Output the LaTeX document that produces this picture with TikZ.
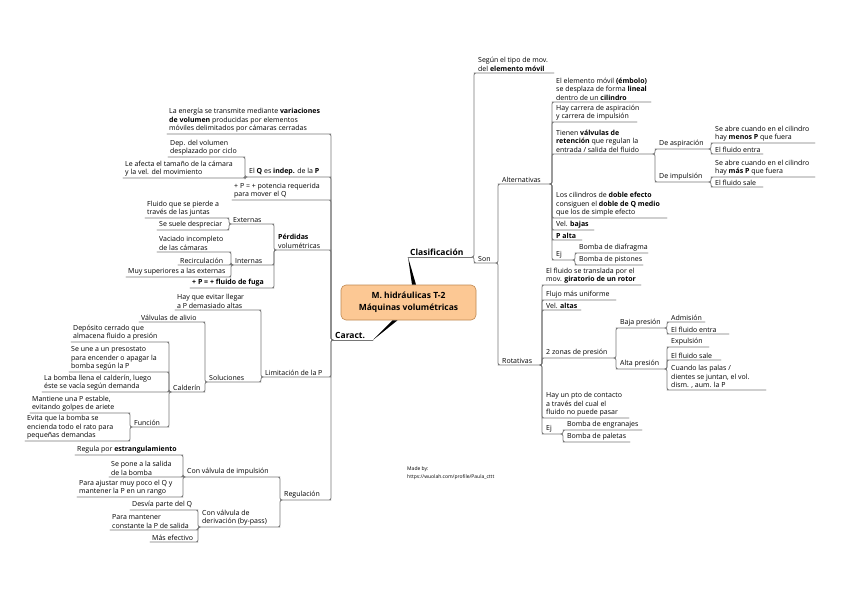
\documentclass[tikz,border=0pt]{standalone}
\usepackage{fontspec}
\setmainfont{Open Sans}
\definecolor{boxfill}{RGB}{252,200,148}
\definecolor{boxline}{RGB}{190,135,80}
\definecolor{linegray}{RGB}{118,118,118}

\begin{document}
\begin{tikzpicture}[x=1pt, y=-1pt,
                    line cap=round, line join=round,
                    topic/.style={anchor=south west, inner xsep=2pt, inner ysep=1.3pt, align=left,
                                  font=\fontsize{7}{8.5}\selectfont},
                    maintopic/.style={anchor=south west, inner xsep=2pt, inner ysep=1.5pt,
                                      font=\fontsize{8.5}{10}\selectfont\bfseries},
                    branch/.style={draw=linegray, line width=0.75pt, rounded corners=2pt}]
  \useasboundingbox (0,0) rectangle (848,599);
  % #1 parent, #2 name, #3 y of the underline, #4 underline length, #5 text
  \def\addRight#1#2#3#4#5{%
    \node[topic, xshift=4pt] (#2) at (#1-end |- 0,#3) {#5};
    \coordinate (#2-end) at ([xshift=#4pt]#2.south west);}
  \def\addLeft#1#2#3#4#5{%
    \node[topic, xshift=-4pt-#4pt] (#2) at (#1.south west |- 0,#3) {#5};
    \coordinate (#2-end) at ([xshift=#4pt]#2.south west);}

  % central topic
  \node[draw=boxline, fill=boxfill, rounded corners=5pt, line width=0.6pt,
        minimum width=135pt, minimum height=35pt, align=center,
        font=\fontsize{8.5}{12.5}\selectfont\bfseries] (main) at (408.5,302.5)
    {M. hidráulicas T-2\\ Máquinas volumétricas};
  \node[maintopic] (clasif) at (408,257) {Clasificación};
  \coordinate (clasif-end) at ([xshift=64pt]clasif.south west);
  \node[maintopic] (caract) at (333,340) {Caract.};
  \coordinate (caract-end) at ([xshift=40pt]caract.south west);
  \fill (clasif.south west) -- ([xshift=3.5pt]main.north) -- ([xshift=7.5pt]main.north) -- cycle;
  \fill (caract-end) -- ([xshift=-16pt]main.south) -- ([xshift=-11pt]main.south) -- cycle;
  \draw[branch] (clasif.south west) -- (clasif-end);
  \draw[branch] (caract.south west) -- (caract-end);

  % right side: clasificacion
  \addRight{clasif}{segun}{73}{78}{Según el tipo de mov.\\ del \textbf{elemento móvil}}
  \addRight{clasif}{son}{263}{20}{Son}
  \addRight{son}{alt}{184}{50}{Alternativas}
  \addRight{alt}{emb}{102}{97}{El elemento móvil \textbf{(émbolo)}\\ se desplaza de forma \textbf{lineal}\\ dentro de un \textbf{cilindro}}
  \addRight{alt}{carr}{122}{83}{Hay carrera de aspiración\\ y carrera de impulsión}
  \addRight{alt}{valv}{154}{99}{Tienen \textbf{válvulas de}\\ \textbf{retención} que regulan la\\ entrada / salida del fluido}
  \addRight{valv}{deasp}{149}{52}{De aspiración}
  \addRight{deasp}{aspA}{143}{102}{Se abre cuando en el cilindro\\ hay \textbf{menos P} que fuera}
  \addRight{deasp}{aspB}{154}{50}{El fluido entra}
  \addRight{valv}{deimp}{182}{52}{De impulsión}
  \addRight{deimp}{impA}{177}{102}{Se abre cuando en el cilindro\\ hay \textbf{más P} que fuera}
  \addRight{deimp}{impB}{187}{50}{El fluido sale}
  \addRight{alt}{doble}{218}{113}{Los cilindros de \textbf{doble efecto}\\ consiguen el \textbf{doble de Q medio}\\ que los de simple efecto}
  \addRight{alt}{velb}{230}{40}{Vel. \textbf{bajas}}
  \addRight{alt}{palta}{240}{28}{\textbf{P alta}}
  \addRight{alt}{ejA}{260}{19}{Ej}
  \addRight{ejA}{diaf}{253}{71}{Bomba de diafragma}
  \addRight{ejA}{pist}{265}{66}{Bomba de pistones}
  \addRight{son}{rot}{365}{40}{Rotativas}
  \addRight{rot}{rotor}{285}{97}{El fluido se translada por el\\ mov. \textbf{giratorio de un rotor}}
  \addRight{rot}{flujo}{300}{72}{Flujo más uniforme}
  \addRight{rot}{vela}{310}{37}{Vel. \textbf{altas}}
  \addRight{rot}{zonas}{358}{70}{2 zonas de presión}
  \addRight{zonas}{baja}{328}{47}{Baja presión}
  \addRight{baja}{adm}{322}{36}{Admisión}
  \addRight{baja}{entra}{334}{60}{El fluido entra}
  \addRight{zonas}{alta}{369}{47}{Alta presión}
  \addRight{alta}{expu}{347}{40}{Expulsión}
  \addRight{alta}{sale}{360}{52}{El fluido sale}
  \addRight{alta}{palas}{390}{97}{Cuando las palas /\\ dientes se juntan, el vol.\\ dism. , aum. la P}
  \addRight{rot}{pto}{418}{85}{Hay un pto de contacto\\ a través del cual el\\ fluido no puede pasar}
  \addRight{rot}{ejB}{434}{17}{Ej}
  \addRight{ejB}{engr}{430}{77}{Bomba de engranajes}
  \addRight{ejB}{palet}{442}{65}{Bomba de paletas}

  % left side: caracteristicas
  \addLeft{caract}{energia}{134}{162}{La energía se transmite mediante \textbf{variaciones}\\ \textbf{de volumen} producidas por elementos\\ móviles delimitados por cámaras cerradas}
  \addLeft{caract}{qindep}{177}{82}{El \textbf{Q} es \textbf{indep.} de la \textbf{P}}
  \addLeft{qindep}{depvol}{157}{75}{Dep. del volumen\\ desplazado por ciclo}
  \addLeft{qindep}{afecta}{178}{120}{Le afecta el tamaño de la cámara\\ y la vel. del movimiento}
  \addLeft{caract}{potencia}{200}{97}{+ P = + potencia requerida\\ para mover el Q}
  \addLeft{caract}{perd}{250}{53}{\textbf{Pérdidas}\\ volumétricas}
  \addLeft{perd}{ext}{224}{41}{Externas}
  \addLeft{ext}{juntas}{218}{82}{Fluido que se pierde a\\ través de las juntas}
  \addLeft{ext}{despr}{230}{70}{Se suele despreciar}
  \addLeft{perd}{inter}{265}{39}{Internas}
  \addLeft{inter}{vaciado}{252}{72}{Vaciado incompleto\\ de las cámaras}
  \addLeft{inter}{recirc}{265}{51}{Recirculación}
  \addLeft{inter}{superior}{277}{103}{Muy superiores a las externas}
  \addLeft{perd}{fuga}{288}{82}{\textbf{+ P = + fluido de fuga}}
  \addLeft{caract}{limit}{377}{66}{Limitación de la P}
  \addLeft{limit}{evitar}{310}{84}{Hay que evitar llegar\\ a P demasiado altas}
  \addLeft{limit}{soluc}{382}{52}{Soluciones}
  \addLeft{soluc}{alivio}{322}{64}{Válvulas de alivio}
  \addLeft{soluc}{cald}{392}{32}{Calderín}
  \addLeft{cald}{deposito}{342}{96}{Depósito cerrado que\\ almacena fluido a presión}
  \addLeft{cald}{presost}{372}{98}{Se une a un presostato\\ para encender o apagar la\\ bomba según la P}
  \addLeft{cald}{llena}{392}{125}{La bomba llena el calderín, luego\\ éste se vacía según demanda}
  \addLeft{cald}{funcion}{427}{35}{Función}
  \addLeft{funcion}{estable}{413}{98}{Mantiene una P estable,\\ evitando golpes de ariete}
  \addLeft{funcion}{evita}{441}{103}{Evita que la bomba se\\ encienda todo el rato para\\ pequeñas demandas}
  \addLeft{caract}{regul}{500}{47}{Regulación}
  \addLeft{regul}{impul}{477}{93}{Con válvula de impulsión}
  \addLeft{impul}{estrang}{455}{106}{Regula por \textbf{estrangulamiento}}
  \addLeft{impul}{salida}{477}{72}{Se pone a la salida\\ de la bomba}
  \addLeft{impul}{ajustar}{497}{104}{Para ajustar muy poco el Q y\\ mantener la P en un rango}
  \addLeft{regul}{deriv}{527}{78}{Con válvula de\\ derivación (by-pass)}
  \addLeft{deriv}{desvia}{510}{66}{Desvía parte del Q}
  \addLeft{deriv}{mantener}{530}{86}{Para mantener\\ constante la P de salida}
  \addLeft{deriv}{efectivo}{542}{46}{Más efectivo}

  % branches
  \foreach \p/\c in {clasif/segun, clasif/son, son/alt, son/rot,
                     alt/emb, alt/carr, alt/valv, alt/doble, alt/velb, alt/palta, alt/ejA,
                     valv/deasp, valv/deimp, deasp/aspA, deasp/aspB, deimp/impA, deimp/impB,
                     ejA/diaf, ejA/pist,
                     rot/rotor, rot/flujo, rot/vela, rot/zonas, rot/pto, rot/ejB,
                     zonas/baja, zonas/alta, baja/adm, baja/entra,
                     alta/expu, alta/sale, alta/palas, ejB/engr, ejB/palet}
    \draw[branch] (\p-end) -- ++(2,0) |- (\c.south west) -- (\c-end);
  \foreach \p/\c in {caract/energia, caract/qindep, caract/potencia, caract/perd,
                     caract/limit, caract/regul,
                     qindep/depvol, qindep/afecta,
                     perd/ext, perd/inter, perd/fuga, ext/juntas, ext/despr,
                     inter/vaciado, inter/recirc, inter/superior,
                     limit/evitar, limit/soluc, soluc/alivio, soluc/cald,
                     cald/deposito, cald/presost, cald/llena, cald/funcion,
                     funcion/estable, funcion/evita,
                     regul/impul, regul/deriv, impul/estrang, impul/salida, impul/ajustar,
                     deriv/desvia, deriv/mantener, deriv/efectivo}
    \draw[branch] (\p.south west) -- ++(-2,0) |- (\c-end) -- (\c.south west);

  % credits
  \node[anchor=north west, align=left, inner sep=0pt, font=\fontsize{5}{8.5}\selectfont] (credit) at (407,466)
    {Made by:\\ https://wuolah.com/profile/Paula\_cttt};
\end{tikzpicture}
\end{document}
